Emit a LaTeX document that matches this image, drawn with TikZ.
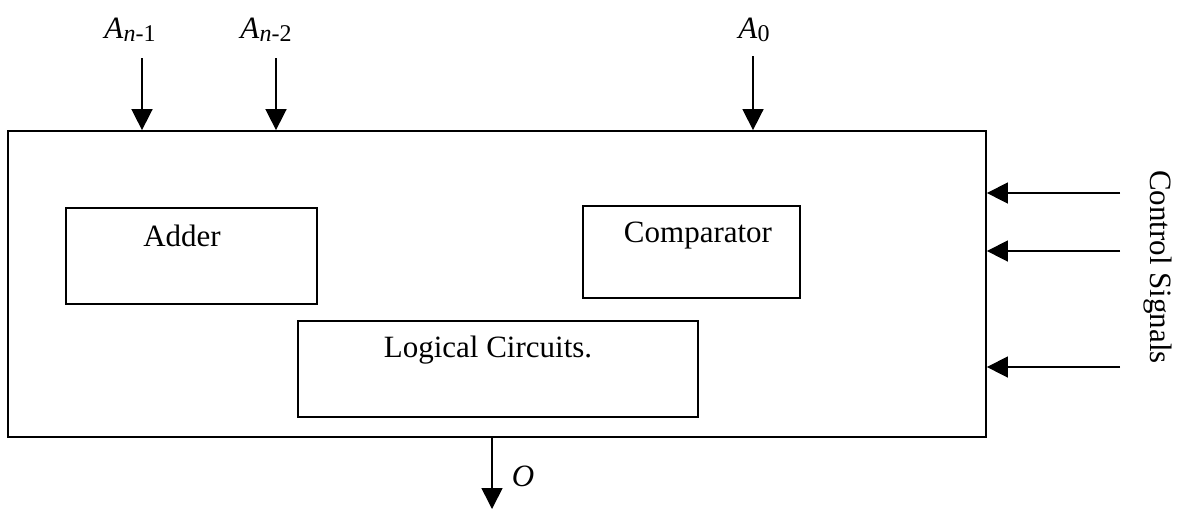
\documentclass[tikz,border=0pt]{standalone}
\usepackage{fontspec}
\setmainfont{Liberation Serif}
\usetikzlibrary{arrows.meta}
\begin{document}
\begin{tikzpicture}[x=0.5pt,y=-0.5pt,
  box/.style={draw,line width=0.9pt,inner sep=0pt},
  arr/.style={line width=0.8pt,-{Triangle[length=10.5pt,width=10.5pt]}},
  txt/.style={font=\fontsize{15.5}{18}\selectfont,inner sep=0pt},
  lbl/.style={font=\fontsize{15.5}{18}\selectfont,inner sep=0pt}]
\useasboundingbox (0,0) rectangle (1186,511);
\node[box,minimum width=489pt,minimum height=153pt] (outer) at (497,284) {};
\node[box,minimum width=125.5pt,minimum height=48pt] (adder) at (191.5,256) {};
\node[box,minimum width=108.5pt,minimum height=46pt] (comp) at (691.5,252) {};
\node[box,minimum width=200pt,minimum height=48pt] (logic) at (498,369) {};
\node[txt,anchor=base] (adderT) at (182,246) {Adder};
\node[txt,anchor=base] (compT) at (698,242) {Comparator};
\node[txt,anchor=base] (logicT) at (488,357) {Logical Circuits.};
% inputs
\node[lbl] (an1) at (130,30) {\textit{A}{\fontsize{12}{14}\selectfont\raisebox{-0.3ex}{\textit{n}-1}}};
\node[lbl] (an2) at (266,30) {\textit{A}{\fontsize{12}{14}\selectfont\raisebox{-0.3ex}{\textit{n}-2}}};
\node[lbl] (a0) at (754,30) {\textit{A}{\fontsize{12}{14}\selectfont\raisebox{-0.3ex}{0}}};
\coordinate (s1) at (142,58);
\coordinate (s2) at (276,58);
\coordinate (s3) at (753,56);
\draw[arr] (s1) -- (s1 |- outer.north);
\draw[arr] (s2) -- (s2 |- outer.north);
\draw[arr] (s3) -- (s3 |- outer.north);
% control signals
\coordinate (c1) at (1120,193);
\coordinate (c2) at (1120,251);
\coordinate (c3) at (1120,367);
\draw[arr] (c1) -- (c1 -| outer.east);
\draw[arr] (c2) -- (c2 -| outer.east);
\draw[arr] (c3) -- (c3 -| outer.east);
\node[lbl,rotate=-90] (ctl) at (1158,267) {Control Signals};
% output
\coordinate (o1) at (492,509);
\draw[arr] (o1 |- outer.south) -- (o1);
\node[lbl] (olbl) at (523,476) {\textit{O}};
\end{tikzpicture}
\end{document}
